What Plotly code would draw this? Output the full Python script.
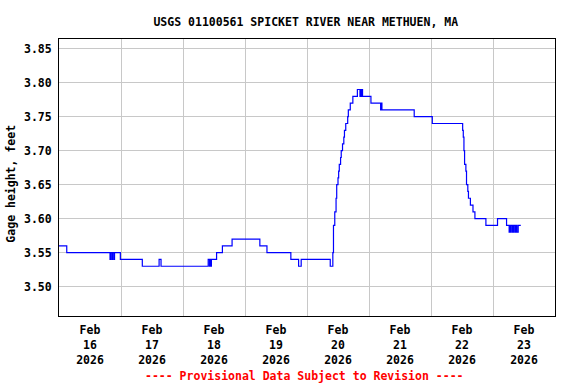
import plotly.graph_objects as go

# ---- data (change points of a 15-minute stage record) ----
times = [
    "2026-02-16 00:00", "2026-02-16 03:00", "2026-02-16 19:45", "2026-02-16 20:00",
    "2026-02-16 20:30", "2026-02-16 20:45", "2026-02-16 21:15", "2026-02-16 21:30",
    "2026-02-16 23:45", "2026-02-17 08:15", "2026-02-17 14:45", "2026-02-17 15:30",
    "2026-02-18 09:45", "2026-02-18 10:15", "2026-02-18 10:30", "2026-02-18 10:45",
    "2026-02-18 11:00", "2026-02-18 13:00", "2026-02-18 15:15", "2026-02-18 19:00",
    "2026-02-19 05:45", "2026-02-19 08:30", "2026-02-19 17:45", "2026-02-19 20:45",
    "2026-02-19 21:45", "2026-02-20 09:00", "2026-02-20 10:00", "2026-02-20 10:15",
    "2026-02-20 10:45", "2026-02-20 11:15", "2026-02-20 11:30", "2026-02-20 12:00",
    "2026-02-20 12:15", "2026-02-20 12:30", "2026-02-20 13:00", "2026-02-20 13:15",
    "2026-02-20 13:45", "2026-02-20 14:15", "2026-02-20 14:30", "2026-02-20 15:00",
    "2026-02-20 15:45", "2026-02-20 16:00", "2026-02-20 16:45", "2026-02-20 17:45",
    "2026-02-20 19:30", "2026-02-20 20:30", "2026-02-20 20:45", "2026-02-20 21:00",
    "2026-02-20 21:15", "2026-02-20 21:30", "2026-02-21 00:45", "2026-02-21 04:30",
    "2026-02-21 04:45", "2026-02-21 05:00", "2026-02-21 17:30", "2026-02-22 00:30",
    "2026-02-22 12:15", "2026-02-22 12:30", "2026-02-22 12:45", "2026-02-22 13:00",
    "2026-02-22 13:30", "2026-02-22 13:45", "2026-02-22 14:15", "2026-02-22 14:30",
    "2026-02-22 15:15", "2026-02-22 16:15", "2026-02-22 17:00", "2026-02-22 21:15",
    "2026-02-23 01:45", "2026-02-23 05:15", "2026-02-23 06:15", "2026-02-23 06:30",
    "2026-02-23 06:45", "2026-02-23 07:00", "2026-02-23 07:30", "2026-02-23 07:45",
    "2026-02-23 08:00", "2026-02-23 08:15", "2026-02-23 08:45", "2026-02-23 09:00",
    "2026-02-23 09:15", "2026-02-23 09:45", "2026-02-23 10:45",
]
gage_height = [
    3.56, 3.55, 3.54, 3.55,
    3.54, 3.55, 3.54, 3.55,
    3.54, 3.53, 3.54, 3.53,
    3.54, 3.53, 3.54, 3.53,
    3.54, 3.55, 3.56, 3.57,
    3.56, 3.55, 3.54, 3.53,
    3.54, 3.53, 3.55, 3.59,
    3.61, 3.63, 3.65, 3.66,
    3.67, 3.68, 3.69, 3.70,
    3.71, 3.72, 3.73, 3.74,
    3.75, 3.76, 3.77, 3.78,
    3.79, 3.78, 3.79, 3.78,
    3.79, 3.78, 3.77, 3.76,
    3.77, 3.76, 3.75, 3.74,
    3.73, 3.72, 3.70, 3.68,
    3.67, 3.65, 3.64, 3.63,
    3.62, 3.61, 3.60, 3.59,
    3.60, 3.59, 3.58, 3.59,
    3.58, 3.59, 3.58, 3.59,
    3.58, 3.59, 3.58, 3.59,
    3.58, 3.59, 3.59,
]

x_tick_vals = ["2026-02-16 12:00", "2026-02-17 12:00", "2026-02-18 12:00", "2026-02-19 12:00",
               "2026-02-20 12:00", "2026-02-21 12:00", "2026-02-22 12:00", "2026-02-23 12:00"]
x_tick_text = ["Feb<br>16<br>2026", "Feb<br>17<br>2026", "Feb<br>18<br>2026", "Feb<br>19<br>2026",
               "Feb<br>20<br>2026", "Feb<br>21<br>2026", "Feb<br>22<br>2026", "Feb<br>23<br>2026"]
x_grid_vals = ["2026-02-17", "2026-02-18", "2026-02-19", "2026-02-20",
               "2026-02-21", "2026-02-22", "2026-02-23"]
y_tick_vals = [3.50, 3.55, 3.60, 3.65, 3.70, 3.75, 3.80, 3.85]
y_tick_text = ["3.50", "3.55", "3.60", "3.65", "3.70", "3.75", "3.80", "3.85"]

title_text = "USGS 01100561 SPICKET RIVER NEAR METHUEN, MA"
y_title = "Gage height, feet"
footer = "---- Provisional Data Subject to Revision ----"

FONT = "DejaVu Sans Mono"
fnt = dict(family=FONT, size=11.5, color="black", weight="bold")

fig = go.Figure()
fig.add_trace(go.Scatter(
    x=times, y=gage_height, mode="lines",
    line=dict(color="#0000FF", width=1.2, shape="hv"),
    hoverinfo="x+y", showlegend=False,
))

fig.update_layout(
    width=576, height=384,
    margin=dict(l=59, r=21, t=39, b=68),
    paper_bgcolor="white", plot_bgcolor="white",
    title=dict(text=title_text, font=fnt, xref="paper", x=0.4975, xanchor="center",
               yref="container", y=1 - 21.5 / 384, yanchor="middle"),
    font=fnt,
    showlegend=False,
)
fig.update_xaxes(
    type="date",
    range=["2026-02-16 00:00", "2026-02-24 00:00"],
    tickmode="array", tickvals=x_tick_vals, ticktext=x_tick_text,
    showgrid=False, ticks="", tickfont=fnt, ticklabelstandoff=3,
    minor=dict(tickmode="array", tickvals=x_grid_vals, showgrid=True,
               gridcolor="#C8C8C8", gridwidth=1, ticks=""),
    showline=True, linecolor="black", linewidth=1, mirror=True,
    zeroline=False, fixedrange=True,
)
fig.update_yaxes(
    range=[3.4568, 3.8643],
    tickmode="array", tickvals=y_tick_vals, ticktext=y_tick_text,
    showgrid=True, gridcolor="#C8C8C8", gridwidth=1, ticks="",
    tickfont=fnt, ticklabelstandoff=4,
    showline=True, linecolor="black", linewidth=1, mirror=True,
    zeroline=False, fixedrange=True,
)
fig.add_annotation(text=y_title, textangle=-90, xref="paper", yref="paper",
                   x=-0.0967, y=0.478, xanchor="center", yanchor="middle",
                   showarrow=False, font=fnt)
fig.add_annotation(text=footer, xref="paper", yref="paper",
                   x=0.4955, y=-0.2177, xanchor="center", yanchor="middle",
                   showarrow=False, font=dict(family=FONT, size=11.5, color="#FF0000", weight="bold"))

fig.write_html("out.html", config={"displayModeBar": False},
               post_script="document.body.style.margin='0';")
